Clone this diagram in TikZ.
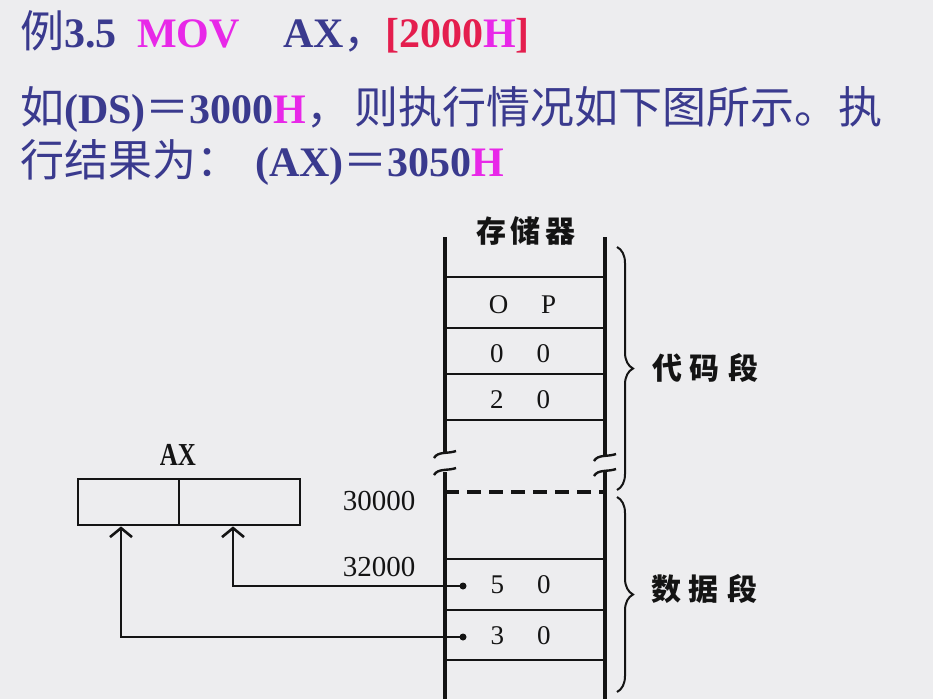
\documentclass[tikz,border=0pt]{standalone}
\usepackage{fontspec}
\setmainfont{Liberation Serif}
\newfontfamily\cjk{Noto Sans CJK SC}
\usetikzlibrary{arrows.meta,decorations.pathreplacing}
\definecolor{bgc}{RGB}{237,237,239}
\definecolor{tblue}{RGB}{58,58,142}
\definecolor{tmag}{RGB}{232,40,232}
\definecolor{tred}{RGB}{228,30,78}
\definecolor{ink}{RGB}{20,20,20}
\newcommand\cjh[1]{{\cjk\mdseries\fontsize{44}{50}\selectfont #1}}
\tikzset{
  hdr/.style={anchor=base west, inner sep=0pt, text=tblue, font=\fontsize{42}{50}\selectfont\bfseries},
  colline/.style={draw=ink, line width=3.5pt},
  rowline/.style={draw=ink, line width=2.8pt},
  celltext/.style={inner sep=0pt, text=ink, font=\fontsize{27}{30}\selectfont},
  addr/.style={inner sep=0pt, text=ink, font=\fontsize{29}{32}\selectfont},
  cjklabel/.style={inner sep=0pt, text=ink, font=\cjk\bfseries\fontsize{30}{34}\selectfont},
  axbox/.style={draw=ink, line width=2.8pt, minimum height=46pt, inner sep=0pt},
  arr/.style={draw=ink, line width=2.8pt, -{Straight Barb[length=9pt,width=22pt,line width=2.6pt]}},
  brk/.style={draw=ink, line width=2.4pt},
  segbrace/.style={draw=ink, line width=2pt, decorate, decoration={brace, amplitude=16pt}},
}
\begin{document}
\begin{tikzpicture}[x=1pt,y=-1pt]
\fill[bgc] (0,0) rectangle (933,699);
\useasboundingbox (0,0) rectangle (933,699);

% header text
\node[hdr] (t1a) at (20,47) {\cjh{例}3.5};
\node[hdr, text=tmag] (t1b) at (137,47) {MOV};
\node[hdr] (t1c) at (283,47) {AX\cjh{，}};
\node[hdr, text=tred] (t1d) at (385,47) {[2000\textcolor{tmag}{H}]};
\node[hdr] (t2a) at (20,123) {\cjh{如}(DS)\cjh{＝}3000\textcolor{tmag}{H}\cjh{，}};
\node[hdr] (t2b) at (354,123) {\cjh{则执行情况如下图所示。执}};
\node[hdr] (t3a) at (20,176) {\cjh{行结果为：}};
\node[hdr] (t3b) at (255,176) {(AX)\cjh{＝}3050\textcolor{tmag}{H}};

% memory column
\node[cjklabel] (mem) at (526,231) {存\hspace{5pt}储\hspace{5pt}器};
\draw[colline] (445,237) -- (445,453);
\draw[colline] (445,472) -- (445,699);
\draw[colline] (605,237) -- (605,457);
\draw[colline] (605,472) -- (605,699);
\foreach \yy in {277,328,374,420,559,610,660}
  \draw[rowline] (445,\yy) -- (605,\yy);
\draw[colline, dash pattern=on 14pt off 8pt] (445,492) -- (605,492);

% break marks
\draw[brk] (434,458) .. controls (438,451) and (448,454) .. (456,451);
\draw[brk] (434,475) .. controls (438,468) and (448,471) .. (456,468);
\draw[brk] (594,461) .. controls (598,454) and (608,457) .. (616,454);
\draw[brk] (594,476) .. controls (598,469) and (608,472) .. (616,469);

% cell contents
\node[celltext] (c1) at (522.5,305) {O\hspace{33pt}P};
\node[celltext] (c2) at (520,354) {0\hspace{33pt}0};
\node[celltext] (c3) at (520,400) {2\hspace{33pt}0};
\node[celltext] (c4) at (520.5,585) {5\hspace{33pt}0};
\node[celltext] (c5) at (520.5,636) {3\hspace{33pt}0};

% addresses
\node[addr] (a1) at (379,501) {30000};
\node[addr] (a2) at (379,567) {32000};

% braces
\draw[segbrace] (617,247) -- (617,490);
\draw[segbrace] (617,497) -- (617,692);
\node[cjklabel] (code) at (705,368) {代\hspace{8pt}码\hspace{8pt}段};
\node[cjklabel] (data) at (704,589) {数\hspace{8pt}据\hspace{8pt}段};

% AX register
\node[axbox, minimum width=101pt] (axl) at (128.5,502) {};
\node[axbox, minimum width=121pt] (axr) at (239.5,502) {};
\node[inner sep=0pt, text=ink, font=\bfseries\fontsize{32}{34}\selectfont] (axlab) at (178,455) {\scalebox{0.78}[1]{AX}};

% data pointers
\coordinate (d1) at (463,586);
\coordinate (d2) at (463,637);
\fill[ink] (d1) circle (3.5);
\fill[ink] (d2) circle (3.5);
\draw[arr] (d1) -| ([xshift=-6.5pt]axr.south);
\draw[arr] (d2) -| ([xshift=-7.5pt]axl.south);
\end{tikzpicture}
\end{document}
